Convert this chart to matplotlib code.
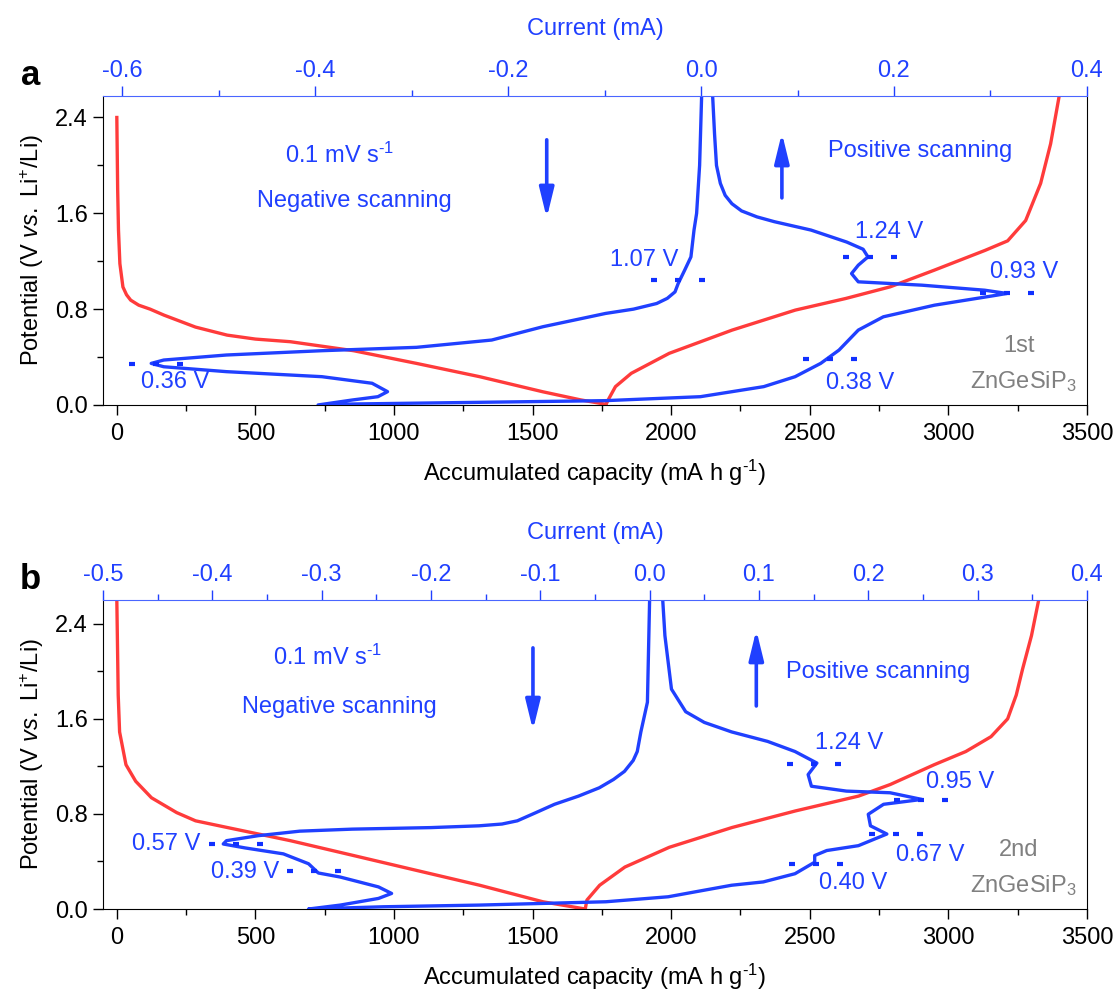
import matplotlib
matplotlib.use("Agg")
import matplotlib.pyplot as plt
from matplotlib.ticker import MultipleLocator, FormatStrFormatter

plt.rcParams['font.family'] = ['Liberation Sans', 'DejaVu Sans']
plt.rcParams['mathtext.fontset'] = 'custom'
plt.rcParams['mathtext.rm'] = 'Liberation Sans'
plt.rcParams['mathtext.it'] = 'Liberation Sans:italic'
plt.rcParams['mathtext.bf'] = 'Liberation Sans:bold'
plt.rcParams['axes.unicode_minus'] = False

RED = '#ff3b3b'
BLUE = '#2040ff'
GRAY = '#808080'
FS = 17

# ---- panel a (1st cycle) ----
# galvanostatic profile: capacity (mA h g-1) vs potential (V)
cap_a_dis = [0, 3, 6, 11, 22, 35, 50, 79, 120, 170, 284, 398, 500, 626, 854,
             1081, 1309, 1537, 1674, 1765]
pot_a_dis = [2.40, 1.80, 1.46, 1.18, 0.985, 0.92, 0.875, 0.833, 0.80, 0.75,
             0.65, 0.583, 0.55, 0.528, 0.453, 0.347, 0.236, 0.11, 0.042, 0.005]
cap_a_chg = [1765, 1776, 1799, 1856, 1993, 2220, 2448, 2630, 2790, 2949,
             3132, 3214, 3279, 3333, 3369, 3400]
pot_a_chg = [0.005, 0.056, 0.153, 0.264, 0.431, 0.625, 0.792, 0.889, 0.986,
             1.125, 1.29, 1.37, 1.54, 1.85, 2.18, 2.58]

# CV: current (mA) vs potential (V), negative then positive scan
cur_a = [0.0006, -0.0015, -0.0046, -0.0073, -0.0105, -0.017, -0.0237, -0.027,
         -0.035, -0.046, -0.070, -0.099, -0.164, -0.217, -0.295, -0.393,
         -0.492, -0.557, -0.570, -0.557, -0.492, -0.393, -0.341, -0.325,
         -0.335, -0.361, -0.397,
         -0.361, -0.230, -0.099, -0.0007, 0.065, 0.0975, 0.124, 0.143,
         0.163, 0.189, 0.242, 0.307, 0.317, 0.294, 0.229, 0.163, 0.156,
         0.163, 0.173, 0.168, 0.151, 0.114, 0.076, 0.058, 0.042, 0.032,
         0.025, 0.020, 0.016, 0.014, 0.012]
pot_a = [2.58, 2.00, 1.60, 1.46, 1.236, 1.125, 1.014, 0.944,
         0.89, 0.847, 0.80, 0.764, 0.653, 0.542, 0.481, 0.453,
         0.417, 0.375, 0.347, 0.319, 0.278, 0.236, 0.181, 0.111,
         0.069, 0.042, 0.0,
         0.008, 0.022, 0.036, 0.069, 0.153, 0.236, 0.347, 0.458,
         0.625, 0.736, 0.833, 0.917, 0.931, 0.958, 1.0, 1.028, 1.097,
         1.167, 1.236, 1.30, 1.36, 1.46, 1.53, 1.57, 1.62, 1.68,
         1.75, 1.85, 2.0, 2.26, 2.58]

peak_a_cur = [-0.565, -0.024, 0.175, 0.317, 0.134]
peak_a_pot = [0.342, 1.042, 1.236, 0.931, 0.383]
peak_a_lbl = ['0.36 V', '1.07 V', '1.24 V', '0.93 V', '0.38 V']

# ---- panel b (2nd cycle) ----
cap_b_dis = [0, 5, 10, 33, 68, 125, 216, 284, 398, 626, 854, 1081, 1309,
             1537, 1690]
pot_b_dis = [2.60, 1.80, 1.49, 1.214, 1.075, 0.936, 0.811, 0.742, 0.686,
             0.575, 0.45, 0.325, 0.20, 0.061, 0.0]
cap_b_chg = [1690, 1696, 1742, 1833, 1993, 2220, 2448, 2676, 2790, 2949,
             3063, 3154, 3214, 3245, 3268, 3300, 3326]
pot_b_chg = [0.0, 0.075, 0.20, 0.353, 0.519, 0.686, 0.825, 0.95, 1.047,
             1.214, 1.325, 1.45, 1.60, 1.80, 2.02, 2.30, 2.60]

cur_b = [0.0, -0.002, -0.008, -0.0113, -0.015, -0.023, -0.033, -0.046,
         -0.065, -0.087, -0.104, -0.121, -0.135, -0.156, -0.200, -0.272,
         -0.320, -0.358, -0.387, -0.390, -0.370, -0.335, -0.312, -0.303,
         -0.283, -0.248, -0.236, -0.248, -0.283, -0.312,
         -0.243, -0.156, -0.040, 0.017, 0.045, 0.075, 0.104, 0.133, 0.151,
         0.151, 0.162, 0.191, 0.217, 0.202, 0.200, 0.214, 0.249, 0.220,
         0.180, 0.148, 0.145, 0.153, 0.133, 0.108, 0.075, 0.050, 0.033,
         0.020, 0.014, 0.012]
pot_b = [2.60, 1.74, 1.49, 1.325, 1.25, 1.158, 1.09, 1.02,
         0.95, 0.881, 0.811, 0.742, 0.715, 0.70, 0.685, 0.672,
         0.655, 0.617, 0.575, 0.547, 0.514, 0.464, 0.381, 0.303,
         0.269, 0.186, 0.131, 0.089, 0.033, 0.0,
         0.019, 0.033, 0.061, 0.103, 0.15, 0.20, 0.228, 0.297, 0.394,
         0.45, 0.492, 0.533, 0.631, 0.70, 0.797, 0.881, 0.922, 0.978,
         0.992, 1.033, 1.131, 1.228, 1.325, 1.41, 1.49, 1.57, 1.66,
         1.85, 2.30, 2.60]

peak_b_cur = [-0.378, -0.307, 0.150, 0.248, 0.225, 0.152]
peak_b_pot = [0.547, 0.317, 1.222, 0.917, 0.631, 0.381]
peak_b_lbl = ['0.57 V', '0.39 V', '1.24 V', '0.95 V', '0.67 V', '0.40 V']


def arrow(ax, x, y0, y1):
    ax.annotate('', xy=(x, y1), xytext=(x, y0), xycoords='axes fraction',
                arrowprops=dict(arrowstyle='-|>,head_length=0.9,head_width=0.22',
                                lw=2.6, color=BLUE, mutation_scale=20,
                                shrinkA=0, shrinkB=0))


def panel(ax, letter, cycle, caps, pots, cur, pot, pk_cur, pk_pot, pk_lbl,
          lbl_pos, ylim, cur_lim, cur_major, cur_minor, dash, txt_pos, arrows):
    for c, p in zip(caps, pots):
        ax.plot(c, p, color=RED, lw=2.4, solid_joinstyle='round')
    ax.set_xlim(-50, 3500)
    ax.set_ylim(*ylim)
    ax.xaxis.set_major_locator(MultipleLocator(500))
    ax.xaxis.set_minor_locator(MultipleLocator(250))
    ax.yaxis.set_major_locator(MultipleLocator(0.8))
    ax.yaxis.set_minor_locator(MultipleLocator(0.4))
    ax.yaxis.set_major_formatter(FormatStrFormatter('%.1f'))
    ax.tick_params(which='major', length=7, width=1, labelsize=FS, pad=6)
    ax.tick_params(which='minor', length=4, width=1)
    ax.tick_params(axis='y', pad=4)
    ax.spines['top'].set_visible(False)
    ax.set_xlabel('Accumulated capacity (mA h g$^{\\text{-1}}$)', fontsize=FS,
                  labelpad=9)
    ax.set_ylabel('Potential (V $\\it{vs.}$ Li$^{+}$/Li)', fontsize=FS,
                  labelpad=6)

    tx = ax.twiny()
    tx.plot(cur, pot, color=BLUE, lw=2.4, solid_joinstyle='round')
    for ci, vi in zip(pk_cur, pk_pot):
        tx.plot([ci - dash, ci, ci + dash], [vi] * 3, ls='none', marker='_',
                ms=5, mew=3, color='#1030ff')
    tx.set_xlim(*cur_lim)
    tx.set_ylim(*ylim)
    tx.xaxis.set_major_locator(MultipleLocator(cur_major))
    tx.xaxis.set_minor_locator(MultipleLocator(cur_minor))
    tx.xaxis.set_major_formatter(FormatStrFormatter('%.1f'))
    tx.tick_params(axis='x', which='major', length=7, width=1, colors=BLUE,
                   labelsize=FS, pad=3)
    tx.tick_params(axis='x', which='minor', length=4, width=1, colors=BLUE)
    for s in ['left', 'right', 'bottom']:
        tx.spines[s].set_visible(False)
    tx.spines['top'].set_color('#4a66ff')
    tx.set_xlabel('Current (mA)', fontsize=FS, color=BLUE, labelpad=18)

    for (x, y), t in zip(lbl_pos, pk_lbl):
        ax.text(x, y, t, transform=ax.transAxes, fontsize=FS, color=BLUE,
                ha='center', va='center')
    (x1, y1), (x2, y2), (x3, y3) = txt_pos
    ax.text(x1, y1, '0.1 mV s$^{\\text{-1}}$', transform=ax.transAxes,
            fontsize=FS, color=BLUE, ha='center', va='center')
    ax.text(x2, y2, 'Negative scanning', transform=ax.transAxes, fontsize=FS,
            color=BLUE, ha='center', va='center')
    ax.text(x3, y3, 'Positive scanning', transform=ax.transAxes, fontsize=FS,
            color=BLUE, ha='center', va='center')
    ax.text(0.931, 0.19, cycle, transform=ax.transAxes, fontsize=FS,
            color=GRAY, ha='center', va='center')
    ax.text(0.935, 0.076, 'ZnGeSiP$_3$', transform=ax.transAxes, fontsize=FS,
            color=GRAY, ha='center', va='center')
    for xa, ya0, ya1 in arrows:
        arrow(ax, xa, ya0, ya1)
    ax.text(-0.074, 1.065, letter, transform=ax.transAxes, fontsize=25,
            fontweight='bold', ha='center', va='center')


fig = plt.figure(figsize=(11.18, 9.94), dpi=100)
ax_a = fig.add_axes([0.0921, 0.5926, 0.8801, 0.3109])
ax_b = fig.add_axes([0.0921, 0.0855, 0.8801, 0.3109])

panel(ax_a, 'a', '1st', [cap_a_dis, cap_a_chg], [pot_a_dis, pot_a_chg],
      cur_a, pot_a, peak_a_cur, peak_a_pot, peak_a_lbl,
      [(0.073, 0.074), (0.550, 0.470), (0.799, 0.560), (0.936, 0.431),
       (0.769, 0.071)],
      (0, 2.58), (-0.62, 0.4), 0.2, 0.1, 0.025,
      [(0.241, 0.809), (0.256, 0.660), (0.830, 0.822)],
      [(0.451, 0.858, 0.605), (0.690, 0.670, 0.880)])

panel(ax_b, 'b', '2nd', [cap_b_dis, cap_b_chg], [pot_b_dis, pot_b_chg],
      cur_b, pot_b, peak_b_cur, peak_b_pot, peak_b_lbl,
      [(0.064, 0.210), (0.144, 0.120), (0.758, 0.537), (0.871, 0.411),
       (0.841, 0.175), (0.762, 0.084)],
      (0, 2.6), (-0.5, 0.4), 0.1, 0.05, 0.022,
      [(0.228, 0.816), (0.240, 0.654), (0.788, 0.767)],
      [(0.437, 0.845, 0.579), (0.664, 0.657, 0.903)])

fig.savefig('out.png', dpi=100)
